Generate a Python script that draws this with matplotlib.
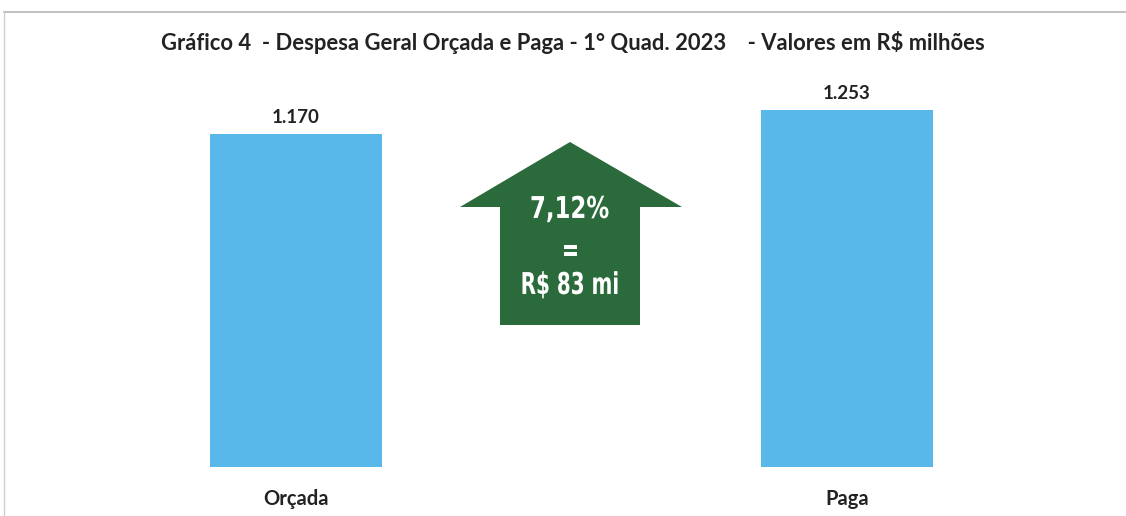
import matplotlib.pyplot as plt
from matplotlib.patches import Polygon, PathPatch
from matplotlib.lines import Line2D
from matplotlib.textpath import TextPath
from matplotlib.font_manager import FontProperties
from matplotlib.transforms import Affine2D

# data
categories = ["Orçada", "Paga"]
values = [1170, 1253]
value_labels = ["1.170", "1.253"]
title = "Gráfico 4  - Despesa Geral Orçada e Paga - 1° Quad. 2023    - Valores em R$ milhões"
arrow_lines = ["7,12%", "=", "R$ 83 mi"]

W, H = 1126, 516
fig = plt.figure(figsize=(W / 100, H / 100), dpi=100)
fig.patch.set_facecolor("white")

# axes: x -0.5..1.5 maps to 20.5..1122.5 px, y 0..1500 maps to 467..40 px
ax = fig.add_axes([20.5 / W, (H - 467) / H, 1102 / W, 427 / H])
ax.set_xlim(-0.5, 1.5)
ax.set_ylim(0, 1500)
ax.axis("off")

font = ["Lato", "DejaVu Sans"]
bar_color = "#58b8ea"
xs = list(range(len(categories)))
ax.bar(xs, values, width=0.312, color=bar_color, edgecolor="none")

for x, v, lab in zip(xs, values, value_labels):
    ax.text(x, v + 28, lab, ha="center", va="bottom", fontsize=13.5,
            fontweight="bold", color="#222222", family=font)
    ax.text(x, -113, categories[x], ha="center", va="center", fontsize=14.5,
            fontweight="bold", color="#222222", family=font)

# overlay in pixel coords for decorations
ov = fig.add_axes([0, 0, 1, 1], facecolor="none")
ov.set_xlim(0, W)
ov.set_ylim(H, 0)
ov.axis("off")

ov.text(573, 43, title, ha="center", va="center", fontsize=15.8,
        fontweight="bold", color="#222222", family=font)

# border
ov.add_line(Line2D([4, W], [12, 12], color="#b5b5b5", lw=1.2))
ov.add_line(Line2D([4, 4], [12, H], color="#d0d0d0", lw=1.0))

# up arrow
arrow_pts = [(570, 142), (682, 207), (640, 207), (640, 325), (500, 325),
             (500, 207), (460, 207)]
ov.add_patch(Polygon(arrow_pts, closed=True, facecolor="#2b6a3b", edgecolor="none"))

# condensed white text inside the arrow
fp = FontProperties(family="DejaVu Sans", weight="bold")
line_y = [207, 249, 283]
line_w = [77, 13, 95]
for txt, cy, tw in zip(arrow_lines, line_y, line_w):
    tp = TextPath((0, 0), txt, size=30, prop=fp)
    ext = tp.get_extents()
    sx = tw / ext.width
    cap_mid = 30 * 0.365
    tr = Affine2D().translate(-(ext.x0 + ext.width / 2), -cap_mid).scale(sx, -1).translate(570, cy)
    ov.add_patch(PathPatch(tr.transform_path(tp), facecolor="white", edgecolor="none"))

fig.savefig("out.png", dpi=100, facecolor="white")
